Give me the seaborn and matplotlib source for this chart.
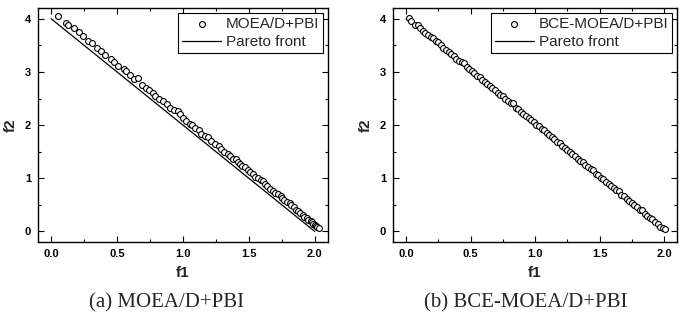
import numpy as np
import pandas as pd
import matplotlib
matplotlib.use("Agg")
import matplotlib.pyplot as plt
import seaborn as sns
from matplotlib.ticker import MultipleLocator

## DADOS
# (a) MOEA/D+PBI
moead_f1 = [0.05, 0.11, 0.13, 0.17, 0.21, 0.24, 0.28, 0.31, 0.35, 0.38,
            0.41, 0.45, 0.48, 0.51, 0.55, 0.57, 0.60, 0.63, 0.66, 0.69,
            0.72, 0.74, 0.77, 0.79, 0.82, 0.85, 0.88, 0.90, 0.93, 0.96,
            0.98, 1.00, 1.02, 1.05, 1.07, 1.09, 1.12, 1.14, 1.17, 1.19,
            1.21, 1.24, 1.27, 1.29, 1.31, 1.34, 1.36, 1.38, 1.40, 1.42,
            1.43, 1.45, 1.47, 1.49, 1.51, 1.53, 1.55, 1.57, 1.59, 1.61,
            1.62, 1.64, 1.66, 1.68, 1.70, 1.72, 1.74, 1.75, 1.77, 1.79,
            1.81, 1.82, 1.84, 1.86, 1.87, 1.89, 1.91, 1.92, 1.94, 1.95,
            1.97, 1.98, 1.99, 2.00, 2.01, 2.02, 2.03]
moead_f2 = [4.05, 3.93, 3.89, 3.82, 3.76, 3.68, 3.58, 3.54, 3.45, 3.40,
            3.32, 3.25, 3.18, 3.11, 3.06, 3.02, 2.95, 2.87, 2.88, 2.76,
            2.69, 2.67, 2.60, 2.54, 2.50, 2.45, 2.39, 2.33, 2.28, 2.27,
            2.20, 2.13, 2.08, 2.03, 2.01, 1.94, 1.90, 1.84, 1.79, 1.77,
            1.71, 1.65, 1.61, 1.55, 1.50, 1.46, 1.41, 1.36, 1.37, 1.31,
            1.27, 1.24, 1.21, 1.16, 1.11, 1.08, 1.03, 1.01, 0.96, 0.95,
            0.90, 0.85, 0.80, 0.77, 0.72, 0.71, 0.66, 0.63, 0.60, 0.55,
            0.53, 0.49, 0.46, 0.41, 0.38, 0.35, 0.31, 0.28, 0.25, 0.22,
            0.20, 0.17, 0.14, 0.12, 0.10, 0.08, 0.06]

# (b) BCE-MOEA/D+PBI
bce_f1 = [0.02, 0.04, 0.07, 0.09, 0.11, 0.13, 0.15, 0.17, 0.19, 0.21,
          0.23, 0.25, 0.27, 0.29, 0.31, 0.33, 0.35, 0.37, 0.39, 0.41,
          0.43, 0.45, 0.47, 0.49, 0.51, 0.53, 0.55, 0.57, 0.59, 0.61,
          0.63, 0.65, 0.67, 0.69, 0.71, 0.73, 0.75, 0.77, 0.79, 0.81,
          0.83, 0.85, 0.87, 0.89, 0.91, 0.93, 0.95, 0.97, 0.99, 1.01,
          1.03, 1.05, 1.07, 1.09, 1.11, 1.13, 1.15, 1.17, 1.19, 1.21,
          1.23, 1.25, 1.27, 1.29, 1.31, 1.33, 1.35, 1.37, 1.39, 1.41,
          1.43, 1.45, 1.47, 1.49, 1.51, 1.53, 1.55, 1.57, 1.59, 1.61,
          1.63, 1.65, 1.67, 1.69, 1.71, 1.73, 1.75, 1.77, 1.79, 1.81,
          1.83, 1.85, 1.87, 1.89, 1.91, 1.93, 1.95, 1.97, 1.99, 2.01]
bce_f2 = [4.02, 3.96, 3.89, 3.88, 3.82, 3.77, 3.73, 3.69, 3.66, 3.63,
          3.58, 3.57, 3.50, 3.45, 3.42, 3.37, 3.33, 3.30, 3.25, 3.21,
          3.18, 3.16, 3.09, 3.06, 3.01, 2.98, 2.93, 2.90, 2.85, 2.81,
          2.78, 2.73, 2.70, 2.67, 2.61, 2.57, 2.54, 2.49, 2.45, 2.42,
          2.41, 2.33, 2.30, 2.25, 2.21, 2.18, 2.13, 2.10, 2.05, 2.01,
          1.98, 1.93, 1.90, 1.85, 1.82, 1.77, 1.74, 1.69, 1.66, 1.61,
          1.57, 1.54, 1.49, 1.45, 1.42, 1.37, 1.33, 1.30, 1.25, 1.22,
          1.17, 1.16, 1.09, 1.06, 1.01, 0.98, 0.93, 0.90, 0.85, 0.81,
          0.78, 0.76, 0.69, 0.66, 0.61, 0.57, 0.54, 0.49, 0.46, 0.41,
          0.41, 0.33, 0.30, 0.25, 0.24, 0.17, 0.14, 0.09, 0.06, 0.04]

# frente de Pareto
pf_f1 = [0.0, 2.0]
pf_f2 = [4.0, 0.0]

panels = [
    ("MOEA/D+PBI", moead_f1, moead_f2, "(a) MOEA/D+PBI", 0.246),
    ("BCE-MOEA/D+PBI", bce_f1, bce_f2, "(b) BCE-MOEA/D+PBI", 0.775),
]

sns.set_style("ticks")
plt.rcParams["font.family"] = ["Liberation Sans", "DejaVu Sans"]

fig = plt.figure(figsize=(6.79, 3.14), dpi=100)
axes = [
    fig.add_axes([0.056, 0.229, 0.427, 0.745]),
    fig.add_axes([0.579, 0.229, 0.418, 0.745]),
]

for ax, (name, f1, f2, caption, cx) in zip(axes, panels):
    df = pd.DataFrame({"f1": f1, "f2": f2})
    pf = pd.DataFrame({"f1": pf_f1, "f2": pf_f2})
    sns.scatterplot(data=df, x="f1", y="f2", ax=ax, marker="o", s=18,
                    facecolor="white", edgecolor="black", linewidth=0.8,
                    label=name, zorder=3)
    sns.lineplot(data=pf, x="f1", y="f2", ax=ax, color="black",
                 linewidth=0.9, label="Pareto front", zorder=2)

    ax.set_xlim(-0.1, 2.1)
    ax.set_ylim(-0.2, 4.2)
    ax.xaxis.set_major_locator(MultipleLocator(0.5))
    ax.xaxis.set_minor_locator(MultipleLocator(0.25))
    ax.yaxis.set_major_locator(MultipleLocator(1))
    ax.yaxis.set_minor_locator(MultipleLocator(0.5))
    ax.xaxis.set_major_formatter(plt.FormatStrFormatter("%.1f"))
    ax.tick_params(which="both", direction="in", top=True, right=True,
                   width=0.8, colors="black")
    ax.tick_params(which="major", length=4, labelsize=8, pad=5)
    ax.tick_params(which="minor", length=2.5)
    for lab in ax.get_xticklabels() + ax.get_yticklabels():
        lab.set_fontweight("bold")
    for sp in ax.spines.values():
        sp.set_linewidth(1.0)
        sp.set_color("black")

    ax.set_xlabel("f1", fontsize=11, fontweight="bold", labelpad=5)
    ax.set_ylabel("f2", fontsize=11, fontweight="bold", labelpad=5)

    leg = ax.legend(loc="upper right", fontsize=11, frameon=True,
                    fancybox=False, edgecolor="black", framealpha=1,
                    borderpad=0.25, labelspacing=0.3, handlelength=2.6,
                    handletextpad=0.3, borderaxespad=0.3, markerscale=1.0)
    leg.get_frame().set_linewidth(0.8)

    fig.text(cx, 0.035, caption, ha="center", va="center", fontsize=15,
             family=["Liberation Serif", "DejaVu Serif"])

fig.savefig("out.png", dpi=100)
